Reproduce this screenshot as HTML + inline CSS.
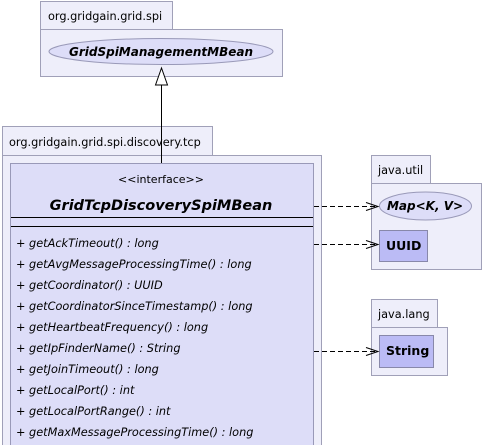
<!DOCTYPE html>
<html><head><style>body{margin:0;background:#fff}svg{display:block}text{font-family:"DejaVu Sans","Liberation Sans",sans-serif}</style></head><body>
<svg width="482" height="445" viewBox="0 0 482 445" xmlns="http://www.w3.org/2000/svg">
<g stroke="#a0a0b8" fill="#eeeefa">
<rect x="40.5" y="1.5" width="132" height="28"/>
<rect x="40.5" y="29.5" width="242" height="47"/>
<rect x="2.5" y="126.5" width="210" height="29"/>
<rect x="2.5" y="155.5" width="319" height="300"/>
<rect x="371.5" y="155.5" width="59" height="28"/>
<rect x="371.5" y="183.5" width="110" height="86"/>
<rect x="371.5" y="299.5" width="66" height="28"/>
<rect x="371.5" y="327.5" width="76" height="48"/>
</g>
<g font-size="11.3" fill="#000">
<text x="48" y="20">org.gridgain.grid.spi</text>
<text x="9" y="146">org.gridgain.grid.spi.discovery.tcp</text>
<text x="378" y="174">java.util</text>
<text x="378" y="318">java.lang</text>
</g>
<ellipse cx="161" cy="51.5" rx="112" ry="13" fill="#ddddf8" stroke="#9999b8"/>
<text x="161" y="56" text-anchor="middle" font-size="12" font-weight="bold" font-style="italic">GridSpiManagementMBean</text>
<rect x="10.5" y="163.5" width="303" height="290" fill="#ddddf8" stroke="#9999b8"/>
<line x1="161.5" y1="85" x2="161.5" y2="163" stroke="#000"/>
<polygon points="161.5,68 155.5,85 167.5,85" fill="#fff" stroke="#000"/>
<text x="161" y="183" text-anchor="middle" font-size="11">&lt;&lt;interface&gt;&gt;</text>
<text x="161" y="210" text-anchor="middle" font-size="14.5" font-weight="bold" font-style="italic">GridTcpDiscoverySpiMBean</text>
<line x1="11" y1="217.5" x2="313" y2="217.5" stroke="#000"/>
<line x1="11" y1="226.5" x2="313" y2="226.5" stroke="#000"/>
<g font-size="11.3" font-style="italic">
<text x="16" y="247">+ getAckTimeout() : long</text>
<text x="16" y="268">+ getAvgMessageProcessingTime() : long</text>
<text x="16" y="289">+ getCoordinator() : UUID</text>
<text x="16" y="310">+ getCoordinatorSinceTimestamp() : long</text>
<text x="16" y="331">+ getHeartbeatFrequency() : long</text>
<text x="16" y="352">+ getIpFinderName() : String</text>
<text x="16" y="373">+ getJoinTimeout() : long</text>
<text x="16" y="394">+ getLocalPort() : int</text>
<text x="16" y="415">+ getLocalPortRange() : int</text>
<text x="16" y="436">+ getMaxMessageProcessingTime() : long</text>
</g>
<ellipse cx="425.5" cy="206" rx="46" ry="14" fill="#ddddf8" stroke="#9999b8"/>
<text x="425" y="210" text-anchor="middle" font-size="12" font-weight="bold" font-style="italic">Map&lt;K, V&gt;</text>
<rect x="379.5" y="230.5" width="48" height="31" fill="#bbbbf5" stroke="#8888aa"/>
<text x="386" y="250" font-size="12.5" font-weight="bold">UUID</text>
<rect x="379.5" y="335.5" width="54" height="32" fill="#bbbbf5" stroke="#8888aa"/>
<text x="386" y="355" font-size="12.5" font-weight="bold">String</text>
<g stroke="#000" fill="none">
<line x1="314" y1="206.5" x2="378" y2="206.5" stroke-dasharray="5,3"/>
<polyline points="366,202.5 378,206.5 366,210.5"/>
<line x1="314" y1="244.5" x2="378" y2="244.5" stroke-dasharray="5,3"/>
<polyline points="366,240.5 378,244.5 366,248.5"/>
<line x1="314" y1="351.5" x2="378" y2="351.5" stroke-dasharray="5,3"/>
<polyline points="366,347.5 378,351.5 366,355.5"/>
</g>
</svg>
</body></html>
